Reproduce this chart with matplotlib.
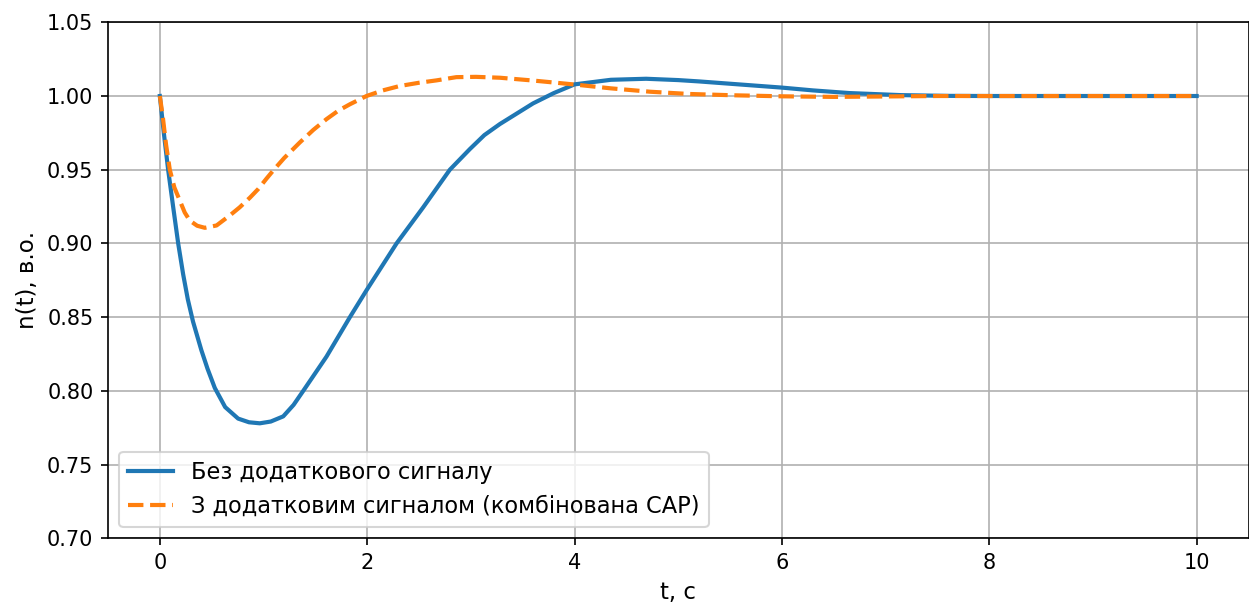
import matplotlib
matplotlib.use("Agg")
import matplotlib.pyplot as plt

# без додаткового сигналу
t_base = [0.00, 0.04, 0.08, 0.13, 0.177, 0.225, 0.27, 0.32, 0.40, 0.46, 0.53,
          0.63, 0.755, 0.86, 0.964, 1.07, 1.19, 1.29, 1.383, 1.607, 1.833,
          1.993, 2.283, 2.54, 2.797, 2.99, 3.13, 3.28, 3.60, 3.80, 4.00, 4.35,
          4.69, 5.00, 5.20, 5.60, 6.00, 6.30, 6.65, 7.15, 7.60, 8.00, 9.00, 10.00]
n_base = [1.000, 0.974, 0.950, 0.924, 0.900, 0.879, 0.862, 0.847, 0.8277, 0.815, 0.802,
          0.789, 0.7812, 0.7787, 0.778, 0.7792, 0.7827, 0.7905, 0.800, 0.8232, 0.850,
          0.8682, 0.900, 0.9245, 0.950, 0.964, 0.9735, 0.981, 0.995, 1.002, 1.0079, 1.0110,
          1.0117, 1.0108, 1.0099, 1.0078, 1.0057, 1.0038, 1.0020, 1.0006, 1.0001, 1.0000, 1.0000, 1.0000]

# з додатковим сигналом (комбінована САР)
t_comb = [0.00, 0.03, 0.06, 0.096, 0.14, 0.193, 0.24, 0.289, 0.36, 0.434, 0.547,
          0.675, 0.77, 0.868, 0.95, 1.029, 1.10, 1.20, 1.35, 1.48, 1.607, 1.72,
          1.833, 1.993, 2.15, 2.314, 2.50, 2.668, 2.86, 3.05, 3.28, 3.60, 4.00,
          4.35, 4.73, 5.10, 5.53, 6.00, 6.50, 7.00, 7.50, 8.00, 9.00, 10.00]
n_comb = [1.000, 0.985, 0.967, 0.950, 0.938, 0.929, 0.921, 0.9155, 0.912, 0.9106, 0.9122,
          0.919, 0.9245, 0.931, 0.937, 0.944, 0.950, 0.958, 0.9685, 0.977, 0.9843, 0.990,
          0.9944, 1.000, 1.0038, 1.0068, 1.0090, 1.0106, 1.0128, 1.0130, 1.0124, 1.0105, 1.0078,
          1.0052, 1.0029, 1.0014, 1.0005, 0.9998, 0.9994, 0.9997, 1.0000, 1.0000, 1.0000, 1.0000]

fig = plt.figure(figsize=(1249 / 150, 606 / 150), dpi=150)
ax = fig.add_axes([108 / 1249, 67.7 / 606, 1140.5 / 1249, 516 / 606])

ax.plot(t_base, n_base, lw=2, label="Без додаткового сигналу")
ax.plot(t_comb, n_comb, "--", lw=2, label="З додатковим сигналом (комбінована САР)")

ax.set_xlim(-0.5, 10.5)
ax.set_ylim(0.70, 1.05)
ax.set_xlabel("t, с", fontsize=11)
ax.set_ylabel("n(t), в.о.", fontsize=11)
ax.grid(True)
ax.legend(loc="lower left", fontsize=10.8)

fig.savefig("out.png", dpi=150)
